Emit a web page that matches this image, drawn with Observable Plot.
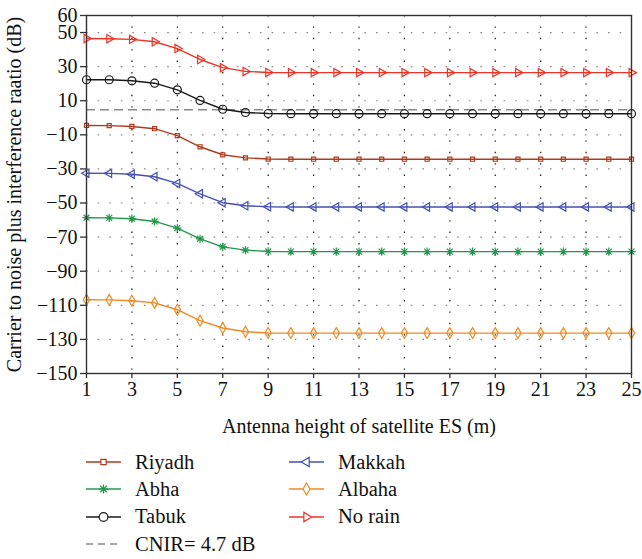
<!DOCTYPE html>
<html>
<head>
<meta charset="utf-8">
<script src="https://cdn.jsdelivr.net/npm/d3@7"></script>
<script src="https://cdn.jsdelivr.net/npm/@observablehq/plot@0.6"></script>
<style>
  html, body { margin: 0; padding: 0; background: #fff; }
  #wrap { width: 642px; font-family: "Liberation Serif", "DejaVu Serif", serif; }
  #legend { position: relative; height: 119px; font-size: 20.5px; color: #111; }
  .item { position: absolute; display: flex; align-items: center; height: 26px; }
  .item svg { display: block; }
  .item span { margin-left: 14px; white-space: nowrap; }
</style>
</head>
<body>
<div id="wrap">
  <div id="chart"></div>
  <div id="legend"></div>
</div>
<script>
// ---- data ----
const heights = [1, 2, 3, 4, 5, 6, 7, 8, 9, 10, 11, 12, 13, 14, 15, 16, 17, 18, 19, 20, 21, 22, 23, 24, 25];
const riyadh = [-4.5, -4.6, -5.1, -6.4, -10.5, -17.0, -21.7, -23.5, -24.2, -24.3, -24.3, -24.3, -24.3, -24.3, -24.3, -24.3, -24.3, -24.3, -24.3, -24.3, -24.3, -24.3, -24.3, -24.3, -24.3];
const abha = [-58.6, -58.7, -59.2, -60.8, -64.7, -71.0, -75.7, -77.6, -78.4, -78.5, -78.5, -78.5, -78.5, -78.5, -78.5, -78.5, -78.5, -78.5, -78.5, -78.5, -78.5, -78.5, -78.5, -78.5, -78.5];
const tabuk = [22.3, 22.3, 21.7, 20.3, 16.4, 10.2, 5.0, 3.1, 2.5, 2.4, 2.4, 2.4, 2.4, 2.4, 2.4, 2.4, 2.4, 2.4, 2.4, 2.4, 2.4, 2.4, 2.4, 2.4, 2.4];
const makkah = [-32.5, -32.6, -33.1, -34.6, -38.5, -44.6, -49.8, -51.6, -52.2, -52.3, -52.3, -52.3, -52.3, -52.3, -52.3, -52.3, -52.3, -52.3, -52.3, -52.3, -52.3, -52.3, -52.3, -52.3, -52.3];
const albaha = [-106.7, -106.8, -107.3, -108.6, -112.6, -119.0, -123.3, -125.5, -126.2, -126.3, -126.3, -126.3, -126.3, -126.3, -126.3, -126.3, -126.3, -126.3, -126.3, -126.3, -126.3, -126.3, -126.3, -126.3, -126.3];
const noRain = [46.5, 46.4, 46.0, 44.6, 40.6, 34.2, 29.4, 27.2, 26.6, 26.5, 26.5, 26.5, 26.5, 26.5, 26.5, 26.5, 26.5, 26.5, 26.5, 26.5, 26.5, 26.5, 26.5, 26.5, 26.5];
const cnir = [4.7];
const xTicks = [1, 3, 5, 7, 9, 11, 13, 15, 17, 19, 21, 23, 25];
const yTicks = [60, 50, 30, 10, -10, -30, -50, -70, -90, -110, -130, -150];
const xGrid = [3, 5, 7, 9, 11, 13, 15, 17, 19, 21, 23];
const yGrid = [50, 30, 10, -10, -30, -50, -70, -90, -110, -130];

// ---- symbols ----
const asterisk8 = {
  draw(ctx, size) {
    const r = Math.sqrt(size / Math.PI) * 1.1;
    for (let i = 0; i < 4; i++) {
      const a = i * Math.PI / 4;
      const c = Math.cos(a) * r, s = Math.sin(a) * r;
      ctx.moveTo(-c, -s); ctx.lineTo(c, s);
    }
  }
};

const series = [
  {name: "Riyadh", values: riyadh, color: "#b03a1e", symbol: "square", rotate: 0, r: 2.3},
  {name: "Abha", values: abha, color: "#22994a", symbol: asterisk8, rotate: 0, r: 3.8},
  {name: "Tabuk", values: tabuk, color: "#1a1a1a", symbol: "circle", rotate: 0, r: 4},
  {name: "Makkah", values: makkah, color: "#4451b3", symbol: "triangle", rotate: -90, r: 3.1},
  {name: "Albaha", values: albaha, color: "#ee8a24", symbol: "diamond", rotate: 0, r: 3.3},
  {name: "No rain", values: noRain, color: "#ec3426", symbol: "triangle", rotate: 90, r: 3.1}
];

const fmt = d => d < 0 ? "\u2212" + Math.abs(d) : String(d);

const marks = [
  Plot.gridY(yGrid, {stroke: "#888", strokeOpacity: 1, strokeDasharray: "1.6,10", strokeWidth: 1.2}),
  Plot.gridX(xGrid, {stroke: "#111", strokeOpacity: 1, strokeDasharray: "1.4,10", strokeWidth: 1.2}),
  Plot.ruleY(cnir, {stroke: "#8a8a8a", strokeWidth: 1.5, strokeDasharray: "9,5"})
];
for (const s of series) {
  const rows = heights.map((h, i) => ({h, v: s.values[i]}));
  marks.push(Plot.line(rows, {x: "h", y: "v", stroke: s.color, strokeWidth: 1.4}));
  marks.push(Plot.dot(rows, {x: "h", y: "v", symbol: s.symbol, r: s.r, rotate: s.rotate, stroke: s.color, fill: "none", strokeWidth: 1.2}));
}
marks.push(Plot.frame({stroke: "#333", strokeWidth: 1.4}));
marks.push(Plot.axisX(xTicks, {tickSize: 5, tickPadding: 3, stroke: "#333", strokeWidth: 1.3,
  label: "Antenna height of satellite ES (m)", labelAnchor: "center", labelOffset: 59, labelArrow: "none"}));
marks.push(Plot.axisY(yTicks, {tickSize: 6, tickPadding: 3, stroke: "#333", strokeWidth: 1.3, tickFormat: fmt,
  label: "Carrier to noise plus interference raatio (dB)", labelAnchor: "center", labelOffset: 80, labelArrow: "none"}));

const chart = Plot.plot({
  width: 642,
  height: 440,
  marginLeft: 86,
  marginRight: 11,
  marginTop: 15,
  marginBottom: 67,
  style: {fontFamily: "'Liberation Serif', 'DejaVu Serif', serif", fontSize: "20px", color: "#111", background: "#fff"},
  x: {domain: [1, 25]},
  y: {domain: [-150, 60]},
  marks
});
document.getElementById("chart").appendChild(chart);

// ---- legend ----
const legend = d3.select("#legend");
const legendItems = [
  {name: "Riyadh", col: 0, row: 0}, {name: "Abha", col: 0, row: 1}, {name: "Tabuk", col: 0, row: 2},
  {name: "CNIR= 4.7 dB", col: 0, row: 3, dashed: true},
  {name: "Makkah", col: 1, row: 0}, {name: "Albaha", col: 1, row: 1}, {name: "No rain", col: 1, row: 2}
];
const colX = [86, 289];
for (const it of legendItems) {
  const s = series.find(d => d.name === it.name);
  const div = legend.append("div").attr("class", "item")
    .style("left", colX[it.col] + "px")
    .style("top", (9 + it.row * 27.4) + "px");
  const svg = div.append("svg").attr("width", 35).attr("height", 20);
  if (it.dashed) {
    svg.append("line").attr("x1", 0).attr("x2", 35).attr("y1", 10).attr("y2", 10)
      .attr("stroke", "#8a8a8a").attr("stroke-width", 1.5).attr("stroke-dasharray", "7,5");
  } else {
    svg.append("line").attr("x1", 0).attr("x2", 35).attr("y1", 10).attr("y2", 10)
      .attr("stroke", s.color).attr("stroke-width", 1.4);
    const type = typeof s.symbol === "string" ? d3["symbol" + s.symbol[0].toUpperCase() + s.symbol.slice(1)] : s.symbol;
    const rr = s.symbol === "square" ? s.r * 1.3 : s.r * 1.1;
    svg.append("path").attr("d", d3.symbol(type, Math.PI * rr * rr)())
      .attr("transform", `translate(17.5,10) rotate(${s.rotate})`)
      .attr("fill", "white").attr("stroke", s.color).attr("stroke-width", 1.2);
  }
  div.append("span").text(it.name);
}
</script>
</body>
</html>
